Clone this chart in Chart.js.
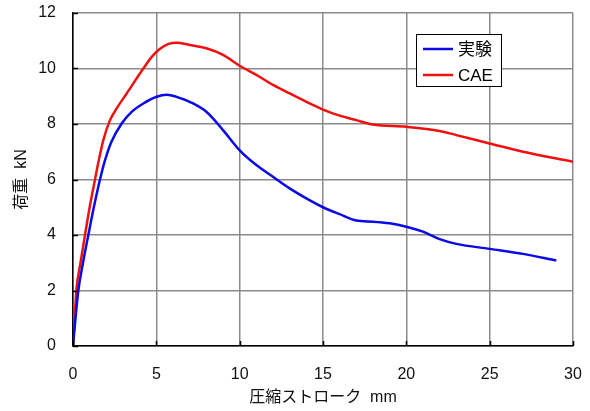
<!DOCTYPE html>
<html>
<head>
<meta charset="utf-8">
<script src="https://cdn.jsdelivr.net/npm/chart.js@4/dist/chart.umd.min.js"></script>
<style>
  html, body { margin: 0; padding: 0; background: #fff; }
  #wrap { width: 590px; height: 411px; }
</style>
</head>
<body>
<div id="wrap"><canvas id="loadChart" width="590" height="411"></canvas></div>
<script>
// 実験データ (ストローク mm, 荷重 kN)
const strokeExp = [0, 0.15, 0.32, 0.6, 0.92, 1.25, 1.62, 1.9, 2.3, 2.92, 3.52, 4.22, 5.02, 5.62, 6.5, 7, 8, 9, 10, 11, 12, 13, 14, 15, 16, 17, 18, 19, 20, 21, 22, 23, 25, 27, 29];
const loadExp = [0, 1.0, 2.0, 3.0, 4.0, 5.0, 6.0, 6.65, 7.35, 8.02, 8.44, 8.74, 8.98, 9.05, 8.92, 8.8, 8.44, 7.78, 7.05, 6.52, 6.1, 5.68, 5.32, 5.0, 4.75, 4.52, 4.48, 4.42, 4.3, 4.12, 3.85, 3.68, 3.5, 3.32, 3.08];

// CAE 解析結果
const strokeCae = [0, 0.1, 0.2, 0.45, 0.72, 1.0, 1.32, 1.55, 1.82, 2.22, 2.62, 3.22, 4.22, 4.7, 5.2, 5.7, 6.2, 7, 8, 9, 10, 11, 12, 13, 14, 15, 16, 17, 18, 20, 22, 23, 25, 27, 30];
const loadCae = [0, 1.0, 2.0, 3.0, 4.0, 5.0, 6.0, 6.7, 7.42, 8.14, 8.56, 9.1, 10.0, 10.4, 10.7, 10.88, 10.93, 10.85, 10.73, 10.49, 10.1, 9.77, 9.41, 9.1, 8.8, 8.52, 8.3, 8.14, 7.98, 7.9, 7.75, 7.6, 7.3, 7.0, 6.64];

const seriesNames = ['実験', 'CAE'];
const xTicks = [0, 5, 10, 15, 20, 25, 30];
const yTicks = [0, 2, 4, 6, 8, 10, 12];

const FONT = "'Liberation Sans', 'Noto Sans CJK JP', Arial, sans-serif";

const toPoints = (xs, ys) => xs.map((x, i) => ({ x: x, y: ys[i] }));

// 凡例 (グラフ内の枠付き)
const boxLegend = {
    id: 'boxLegend',
    afterDraw(chart) {
        const c = chart.ctx;
        const x0 = 416, y0 = 34, w = 85, h = 52;
        c.save();
        c.fillStyle = '#fff';
        c.fillRect(x0, y0, w, h);
        c.strokeStyle = '#000';
        c.lineWidth = 1;
        c.strokeRect(x0 + 0.5, y0 + 0.5, w, h);
        c.font = '17px ' + FONT;
        c.textBaseline = 'middle';
        chart.data.datasets.forEach((ds, i) => {
            const yy = y0 + 15 + i * 26;
            c.strokeStyle = ds.borderColor;
            c.lineWidth = 2.5;
            c.beginPath();
            c.moveTo(x0 + 7, yy);
            c.lineTo(x0 + 37, yy);
            c.stroke();
            c.fillStyle = '#000';
            c.fillText(ds.label, x0 + 42, yy + 1);
        });
        c.restore();
    }
};

// 軸の内向き目盛り
const innerTicks = {
    id: 'innerTicks',
    afterDatasetsDraw(chart) {
        const c = chart.ctx;
        const a = chart.chartArea;
        const xs = chart.scales.x, ys = chart.scales.y;
        c.save();
        c.strokeStyle = '#000';
        c.lineWidth = 1.5;
        c.beginPath();
        xTicks.forEach(v => {
            const px = Math.round(xs.getPixelForValue(v)) + 0.5;
            c.moveTo(px, a.bottom);
            c.lineTo(px, a.bottom - 5);
        });
        yTicks.forEach(v => {
            const py = Math.round(ys.getPixelForValue(v)) + 0.5;
            c.moveTo(a.left, py);
            c.lineTo(a.left + 5, py);
        });
        c.stroke();
        c.restore();
    }
};

new Chart(document.getElementById('loadChart'), {
    type: 'scatter',
    data: {
        datasets: [{
            label: seriesNames[0],
            data: toPoints(strokeExp, loadExp),
            showLine: true,
            borderColor: '#0a0ae6',
            borderWidth: 2.5,
            pointRadius: 0,
            cubicInterpolationMode: 'monotone'
        }, {
            label: seriesNames[1],
            data: toPoints(strokeCae, loadCae),
            showLine: true,
            borderColor: '#f01010',
            borderWidth: 2.5,
            pointRadius: 0,
            cubicInterpolationMode: 'monotone'
        }]
    },
    options: {
        responsive: false,
        animation: false,
        events: [],
        layout: { padding: { top: 13, right: 17, left: 0, bottom: 0 } },
        scales: {
            x: {
                type: 'linear',
                min: 0,
                max: 30,
                afterFit: s => {
                    s.height = 65;
                    s.paddingLeft = 0;
                    s.paddingRight = 0;
                },
                afterBuildTicks: s => { s.ticks = xTicks.map(v => ({ value: v })); },
                grid: { color: '#8a8a8a', lineWidth: 1.5, drawTicks: false },
                border: { color: '#000', width: 1.5 },
                ticks: { padding: 19, color: '#111', font: { family: FONT, size: 16 } },
                title: {
                    display: true,
                    text: '圧縮ストローク  mm',
                    color: '#111',
                    padding: { top: 7 },
                    font: { family: FONT, size: 16 }
                }
            },
            y: {
                min: 0,
                max: 12,
                afterFit: s => {
                    s.width = 73;
                    s.paddingTop = 0;
                    s.paddingBottom = 0;
                },
                afterBuildTicks: s => { s.ticks = yTicks.map(v => ({ value: v })); },
                grid: { color: '#8a8a8a', lineWidth: 1.5, drawTicks: false },
                border: { color: '#000', width: 1.5 },
                ticks: { padding: 17, color: '#111', font: { family: FONT, size: 16 } },
                title: {
                    display: true,
                    text: '荷重  kN',
                    color: '#111',
                    padding: { top: 12, bottom: 0 },
                    font: { family: FONT, size: 16 }
                }
            }
        },
        plugins: {
            legend: { display: false },
            tooltip: { enabled: false }
        }
    },
    plugins: [innerTicks, boxLegend]
});
</script>
</body>
</html>
